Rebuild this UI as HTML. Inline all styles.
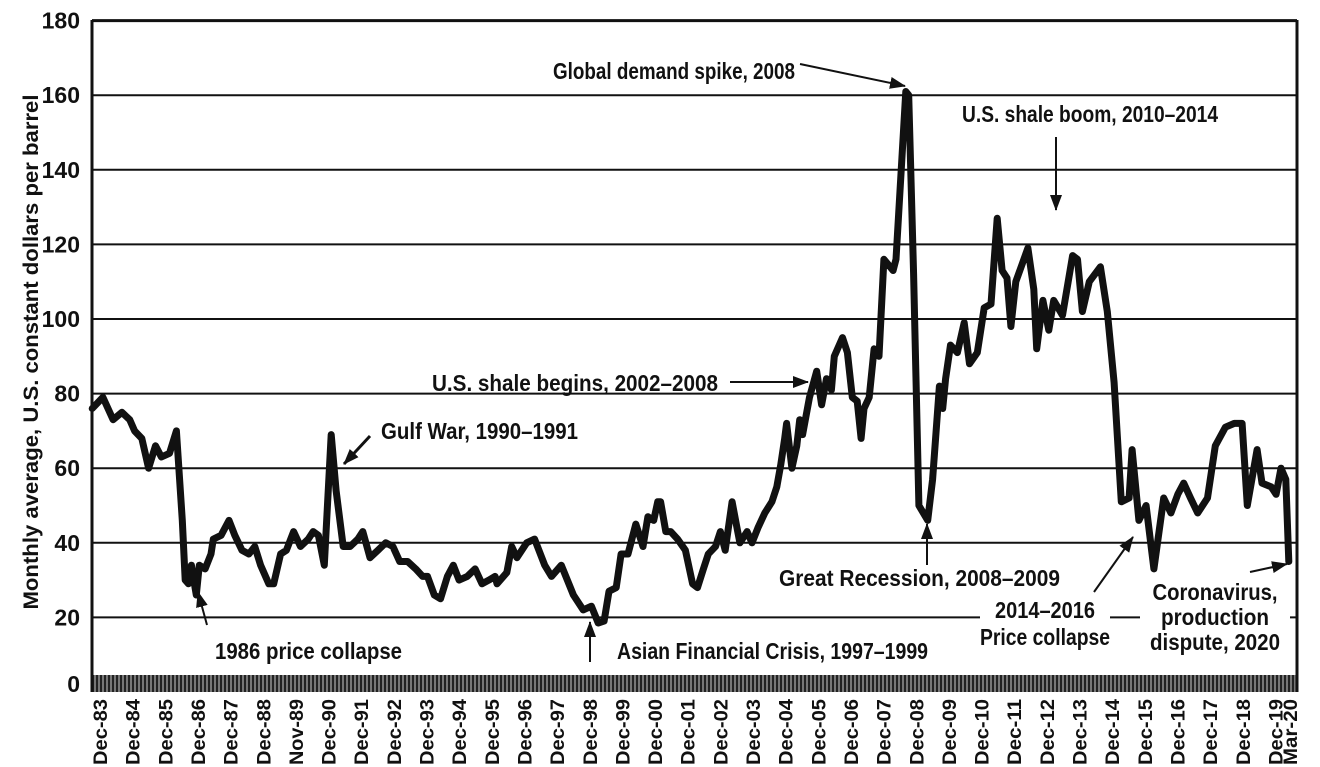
<!DOCTYPE html>
<html><head><meta charset="utf-8"><style>
html,body{margin:0;padding:0;background:#fff;}
svg{display:block;}
text{font-family:"Liberation Sans Narrow","Liberation Sans",sans-serif;font-weight:bold;fill:#111;}
</style></head><body>
<svg id="chart" width="1320" height="767" viewBox="0 0 1320 767">
<defs>
<pattern id="hatch" width="4" height="20" patternUnits="userSpaceOnUse">
<rect width="4" height="20" fill="#777"/><rect width="2" height="20" fill="#222"/>
</pattern>
<marker id="ah" markerWidth="16" markerHeight="12" refX="15" refY="6" orient="auto" markerUnits="userSpaceOnUse"><path d="M0,0 L16,6 L0,12 z" fill="#111"/></marker>
</defs>
<g id="grid"></g>
<g id="ylabels"></g>
<g id="xlabels"></g>
<rect x="92" y="675" width="1205" height="17" fill="url(#hatch)"/>
<g id="annot">
<rect x="1140" y="605" width="150" height="26" fill="#fff"/>
<rect x="980" y="605" width="130" height="26" fill="#fff"/>
<rect x="775" y="565" width="290" height="24" fill="#fff"/>
</g>
<path id="line" fill="none" stroke="#111" stroke-width="7" stroke-linejoin="round" stroke-linecap="round"/>
<line x1="92" y1="20" x2="92" y2="692" stroke="#111" stroke-width="3"/>
<line x1="1297" y1="20" x2="1297" y2="692" stroke="#111" stroke-width="3"/>
<text transform="translate(38,352) rotate(-90)" text-anchor="middle" font-size="21" textLength="515" lengthAdjust="spacingAndGlyphs">Monthly average, U.S. constant dollars per barrel</text>

<g font-size="23">
<text x="553" y="79" textLength="242" lengthAdjust="spacingAndGlyphs">Global demand spike, 2008</text>
<line x1="800" y1="64" x2="905" y2="86" stroke="#111" stroke-width="2" marker-end="url(#ah)"/>
<text x="962" y="122" textLength="256" lengthAdjust="spacingAndGlyphs">U.S. shale boom, 2010–2014</text>
<line x1="1056" y1="137" x2="1056" y2="210" stroke="#111" stroke-width="2" marker-end="url(#ah)"/>
<text x="432" y="391" textLength="286" lengthAdjust="spacingAndGlyphs">U.S. shale begins, 2002–2008</text>
<line x1="730" y1="382" x2="808" y2="382" stroke="#111" stroke-width="2" marker-end="url(#ah)"/>
<text x="381" y="439" textLength="197" lengthAdjust="spacingAndGlyphs">Gulf War, 1990–1991</text>
<line x1="370" y1="436" x2="344" y2="464" stroke="#111" stroke-width="3" marker-end="url(#ah)"/>
<text x="215" y="659" textLength="187" lengthAdjust="spacingAndGlyphs">1986 price collapse</text>
<line x1="207" y1="625" x2="198" y2="592" stroke="#111" stroke-width="2" marker-end="url(#ah)"/>
<text x="617" y="659" textLength="311" lengthAdjust="spacingAndGlyphs">Asian Financial Crisis, 1997–1999</text>
<line x1="590" y1="662" x2="590" y2="622" stroke="#111" stroke-width="2" marker-end="url(#ah)"/>
<text x="779" y="586" textLength="281" lengthAdjust="spacingAndGlyphs">Great Recession, 2008–2009</text>
<line x1="927" y1="565" x2="927" y2="524" stroke="#111" stroke-width="2" marker-end="url(#ah)"/>
<text x="1045" y="618" text-anchor="middle" textLength="100" lengthAdjust="spacingAndGlyphs">2014–2016</text>
<text x="1045" y="645" text-anchor="middle" textLength="130" lengthAdjust="spacingAndGlyphs">Price collapse</text>
<line x1="1094" y1="592" x2="1133" y2="537" stroke="#111" stroke-width="2" marker-end="url(#ah)"/>
<text x="1215" y="600" text-anchor="middle" textLength="125" lengthAdjust="spacingAndGlyphs">Coronavirus,</text>
<text x="1215" y="625" text-anchor="middle" textLength="108" lengthAdjust="spacingAndGlyphs">production</text>
<text x="1215" y="650" text-anchor="middle" textLength="130" lengthAdjust="spacingAndGlyphs">dispute, 2020</text>
<line x1="1250" y1="572" x2="1287" y2="564" stroke="#111" stroke-width="2" marker-end="url(#ah)"/>
</g>
</svg>
<script>
const years = [1983.76,1984.09,1984.40,1984.67,1984.91,1985.06,1985.28,1985.49,1985.70,1985.88,1986.13,1986.34,1986.52,1986.61,1986.71,1986.80,1986.89,1986.95,1987.04,1987.22,1987.40,1987.47,1987.71,1987.95,1988.13,1988.35,1988.56,1988.74,1988.92,1989.17,1989.32,1989.53,1989.71,1989.93,1990.14,1990.38,1990.53,1990.69,1990.87,1991.08,1991.23,1991.45,1991.66,1991.90,1992.05,1992.27,1992.51,1992.75,1992.97,1993.18,1993.42,1993.67,1993.88,1994.03,1994.24,1994.43,1994.64,1994.82,1995.00,1995.25,1995.49,1995.70,1995.91,1996.10,
1996.16,1996.46,1996.61,1996.77,1997.07,1997.31,1997.62,1997.83,1998.13,1998.50,1998.80,1999.05,1999.26,1999.44,1999.59,1999.81,1999.96,2000.17,2000.41,2000.63,2000.78,2000.96,2001.08,2001.17,2001.33,2001.48,2001.69,2001.93,2002.15,2002.30,2002.48,2002.63,2002.85,2003.00,2003.15,2003.36,2003.51,2003.60,2003.82,2003.97,2004.15,2004.36,2004.58,2004.73,2004.85,2004.97,2005.03,2005.19,2005.34,2005.43,2005.52,2005.73,2005.95,2006.10,2006.25,2006.40,2006.49,2006.74,2006.89,2007.04,2007.19,2007.31,2007.40,2007.56,2007.71,
2007.86,2008.01,2008.29,2008.38,2008.68,2008.77,2008.92,2009.08,2009.35,2009.50,2009.71,2009.81,2009.90,2010.05,2010.26,2010.47,2010.63,2010.87,2011.08,2011.29,2011.48,2011.63,2011.78,2011.90,2012.05,2012.42,2012.60,2012.69,2012.88,2013.06,2013.21,2013.48,2013.79,2013.94,2014.09,2014.30,2014.64,2014.85,2015.06,2015.28,2015.52,2015.61,2015.82,2016.04,2016.28,2016.58,2016.80,2017.01,2017.19,2017.40,2017.62,2017.92,2018.16,2018.47,2018.74,2018.98,2019.14,2019.44,2019.59,2019.87,2020.02,2020.17,2020.32,2020.41];
const prices = [76,79,73,75,73,70,68,60,66,63,64,70,46,30,29,34,29,26,34,33,37,41,42,46,42,38,37,39,34,29,29,37,38,43,39,41,43,42,34,69,54,39,39,41,43,36,38,40,39,35,35,33,31,31,26,25,31,34,30,31,33,29,30,31,
29,32,39,36,40,41,34,31,34,26,22,23,18.5,19,27,28,37,37,45,39,47,46,51,51,43,43,41,38,29,28,33,37,39,43,38,51,44,40,43,40,44,48,51,55,61,68,72,60,66,73,69,79,86,77,84,81,90,95,91,79,78,68,76,79,92,
90,116,113,116,161,160,112,50,46,57,82,76,84,93,91,99,88,91,103,104,127,113,111,98,110,119,108,92,105,97,105,101,117,116,102,110,114,102,83,51,52,65,46,50,33,52,48,53,56,52,48,52,66,71,72,72,50,65,56,55,53,60,57,35];
const yTicks = [0,20,40,60,80,100,120,140,160,180];
const xTickLabels = ["Dec-83","Dec-84","Dec-85","Dec-86","Dec-87","Dec-88","Nov-89","Dec-90","Dec-91","Dec-92","Dec-93","Dec-94","Dec-95","Dec-96","Dec-97","Dec-98","Dec-99","Dec-00","Dec-01","Dec-02","Dec-03","Dec-04","Dec-05","Dec-06","Dec-07","Dec-08","Dec-09","Dec-10","Dec-11","Dec-12","Dec-13","Dec-14","Dec-15","Dec-16","Dec-17","Dec-18","Dec-19","Mar-20"];
const xTickYears = [1984,1985,1986,1987,1988,1989,1990,1991,1992,1993,1994,1995,1996,1997,1998,1999,2000,2001,2002,2003,2004,2005,2006,2007,2008,2009,2010,2011,2012,2013,2014,2015,2016,2017,2018,2019,2020,2020.45];

const NS = "http://www.w3.org/2000/svg";
function xScale(t){ return 100 + (t - 1984) * 32.65; }
function yScale(v){ return 692 - v * 3.73; }

const grid = document.getElementById('grid');
const ylab = document.getElementById('ylabels');
yTicks.forEach(v => {
  if (v > 0) {
    const l = document.createElementNS(NS,'line');
    l.setAttribute('x1',92); l.setAttribute('x2',1297);
    l.setAttribute('y1',yScale(v)); l.setAttribute('y2',yScale(v));
    l.setAttribute('stroke','#111'); l.setAttribute('stroke-width', v===180?3:2);
    
    
    grid.appendChild(l);
  }
  const t = document.createElementNS(NS,'text');
  t.setAttribute('x',80); t.setAttribute('y', v===0 ? 692 : yScale(v)+8);
  t.setAttribute('text-anchor','end'); t.setAttribute('font-size','23');
  t.textContent = v;
  
  
  ylab.appendChild(t);
});

const xlab = document.getElementById('xlabels');
xTickLabels.forEach((s,i) => {
  const x = xScale(xTickYears[i]);
  const t = document.createElementNS(NS,'text');
  t.setAttribute('transform','translate(' + (x+7) + ',765) rotate(-90)');
  t.setAttribute('font-size','19');
  t.setAttribute('textLength','66');
  t.setAttribute('lengthAdjust','spacingAndGlyphs');
  t.textContent = s;
  
  
  xlab.appendChild(t);
});

let d = '';
years.forEach((t,i) => { d += (i ? 'L' : 'M') + xScale(t).toFixed(1) + ',' + yScale(prices[i]).toFixed(1); });
document.getElementById('line').setAttribute('d', d);
</script>
</body></html>
